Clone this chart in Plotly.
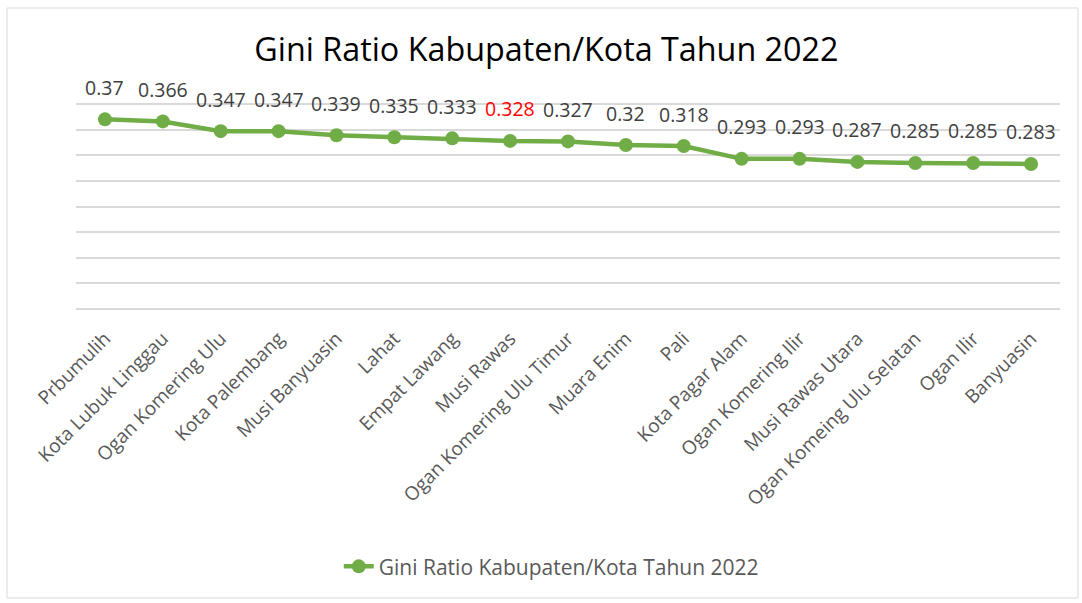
import plotly.graph_objects as go

categories = ["Prbumulih", "Kota Lubuk Linggau", "Ogan Komering Ulu", "Kota Palembang",
              "Musi Banyuasin", "Lahat", "Empat Lawang", "Musi Rawas",
              "Ogan Komering Ulu Timur", "Muara Enim", "Pali", "Kota Pagar Alam",
              "Ogan Komering Ilir", "Musi Rawas Utara", "Ogan Komeing Ulu Selatan",
              "Ogan Ilir", "Banyuasin"]
values = [0.37, 0.366, 0.347, 0.347, 0.339, 0.335, 0.333, 0.328, 0.327, 0.32,
          0.318, 0.293, 0.293, 0.287, 0.285, 0.285, 0.283]
labels = ["0.37", "0.366", "0.347", "0.347", "0.339", "0.335", "0.333", "0.328", "0.327",
          "0.32", "0.318", "0.293", "0.293", "0.287", "0.285", "0.285", "0.283"]
highlight = "Musi Rawas"
series_name = "Gini Ratio Kabupaten/Kota Tahun 2022"
grid_vals = [0, 0.05, 0.1, 0.15, 0.2, 0.25, 0.3, 0.35, 0.4]

GREEN = "#70AD47"
FONT = "Open Sans"

fig = go.Figure()
fig.add_trace(go.Scatter(
    x=categories, y=values, mode="lines+markers", name=series_name,
    line=dict(color=GREEN, width=4.5),
    marker=dict(color=GREEN, size=14),
))

for c, v, t in zip(categories, values, labels):
    fig.add_annotation(
        x=c, y=v, text=t, showarrow=False, yshift=32,
        font=dict(family=FONT, size=19.5, color="#FF0000" if c == highlight else "#404040"),
    )

fig.update_layout(
    width=1082, height=603,
    paper_bgcolor="white", plot_bgcolor="white",
    margin=dict(l=76, r=22, t=102, b=294, autoexpand=False),
    title=dict(text="Gini Ratio Kabupaten/Kota Tahun 2022", x=0.505, xref="container",
               xanchor="center", y=1 - 50 / 603, yanchor="middle",
               font=dict(family=FONT, size=32.3, color="#000000")),
    showlegend=True,
    legend=dict(orientation="h", x=0.483, xanchor="center", y=-1.245, yanchor="middle",
                font=dict(family=FONT, size=21, color="#595959"), bgcolor="rgba(0,0,0,0)"),
    xaxis=dict(type="category", range=[-0.5, len(categories) - 0.5], tickangle=-45,
               showgrid=False, showline=False, ticks="outside", ticklen=10,
               tickcolor="rgba(0,0,0,0)", automargin=False,
               tickfont=dict(family=FONT, size=19, color="#595959")),
    yaxis=dict(range=[0, 0.4039], tickvals=grid_vals,
               showticklabels=False, showgrid=True, automargin=False,
               gridcolor="#D9D9D9", gridwidth=1.5, zeroline=True, zerolinecolor="#D9D9D9",
               zerolinewidth=1.5, showline=False, ticks=""),
    shapes=[dict(type="rect", xref="paper", yref="paper",
                 x0=-69 / 984, x1=1 + 18 / 984, y0=-289 / 207, y1=1 + 94 / 207,
                 line=dict(color="#D9D9D9", width=1), layer="below")],
)

fig.write_html("out.html", config={"displayModeBar": False},
               post_script="document.body.style.margin='0';")
